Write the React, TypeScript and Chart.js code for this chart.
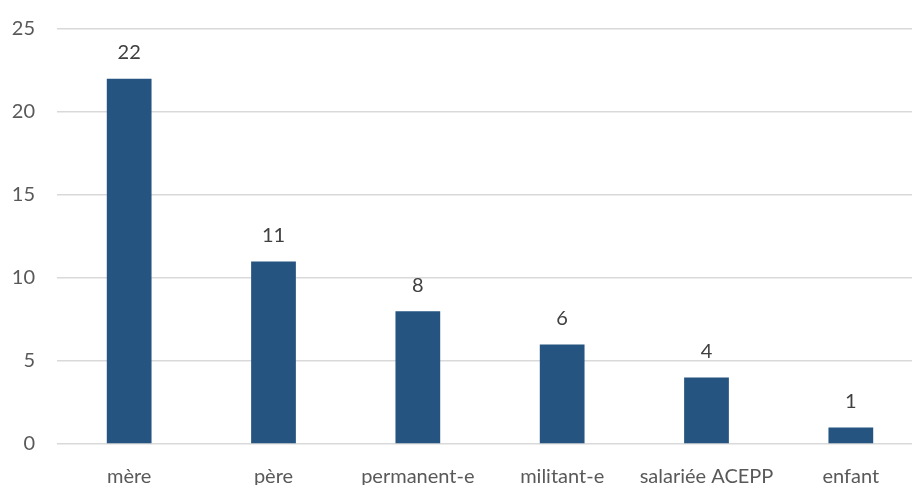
import React, { useEffect, useRef } from "react";
import { Chart, registerables } from "chart.js";

Chart.register(...registerables);

const categories = ["mère", "père", "permanent-e", "militant-e", "salariée ACEPP", "enfant"];
const values = [22, 11, 8, 6, 4, 1];
const yTicks = [0, 5, 10, 15, 20, 25];

const FONT = "Lato";

const valueLabels = {
  id: "valueLabels",
  afterDatasetsDraw(chart: any) {
    const ctx = chart.ctx;
    const meta = chart.getDatasetMeta(0);
    ctx.save();
    ctx.font = `20px ${FONT}`;
    ctx.fillStyle = "#404040";
    ctx.textAlign = "center";
    ctx.textBaseline = "middle";
    meta.data.forEach((bar: any, i: number) => {
      ctx.fillText(String(values[i]), bar.x, bar.y - 26);
    });
    ctx.restore();
  },
};

export default function App() {
  const ref = useRef<HTMLCanvasElement>(null);
  useEffect(() => {
    document.body.style.margin = "0";
    document.body.style.overflow = "hidden";
    document.documentElement.style.overflow = "hidden";
    const chart = new Chart(ref.current!, {
      type: "bar",
      data: {
        labels: categories,
        datasets: [
          {
            data: values,
            backgroundColor: "#255480",
            categoryPercentage: 1,
            barPercentage: 0.31,
          },
        ],
      },
      options: {
        animation: false,
        responsive: false,
        maintainAspectRatio: false,
        layout: { padding: { left: 0, right: 0, top: 13, bottom: 0 } },
        plugins: { legend: { display: false }, tooltip: { enabled: false } },
        scales: {
          x: {
            grid: { display: false },
            border: { display: false },
            ticks: {
              color: "#595959",
              font: { family: FONT, size: 20 },
              padding: 13,
              maxRotation: 0,
              autoSkip: false,
            },
          },
          y: {
            min: 0,
            max: 25,
            afterFit: (axis: any) => {
              axis.width = 57;
            },
            afterBuildTicks: (axis: any) => {
              axis.ticks = yTicks.map((v) => ({ value: v }));
            },
            grid: { color: "#D9D9D9", lineWidth: 1.5, drawTicks: false },
            border: { display: false },
            ticks: {
              color: "#595959",
              font: { family: FONT, size: 20 },
              padding: 22,
            },
          },
        },
      },
      plugins: [valueLabels],
    });
    return () => chart.destroy();
  }, []);
  return (
    <div style={{ position: "fixed", left: 0, top: -5 }}>
      <canvas ref={ref} width={923} height={507} style={{ width: 923, height: 507 }} />
    </div>
  );
}
